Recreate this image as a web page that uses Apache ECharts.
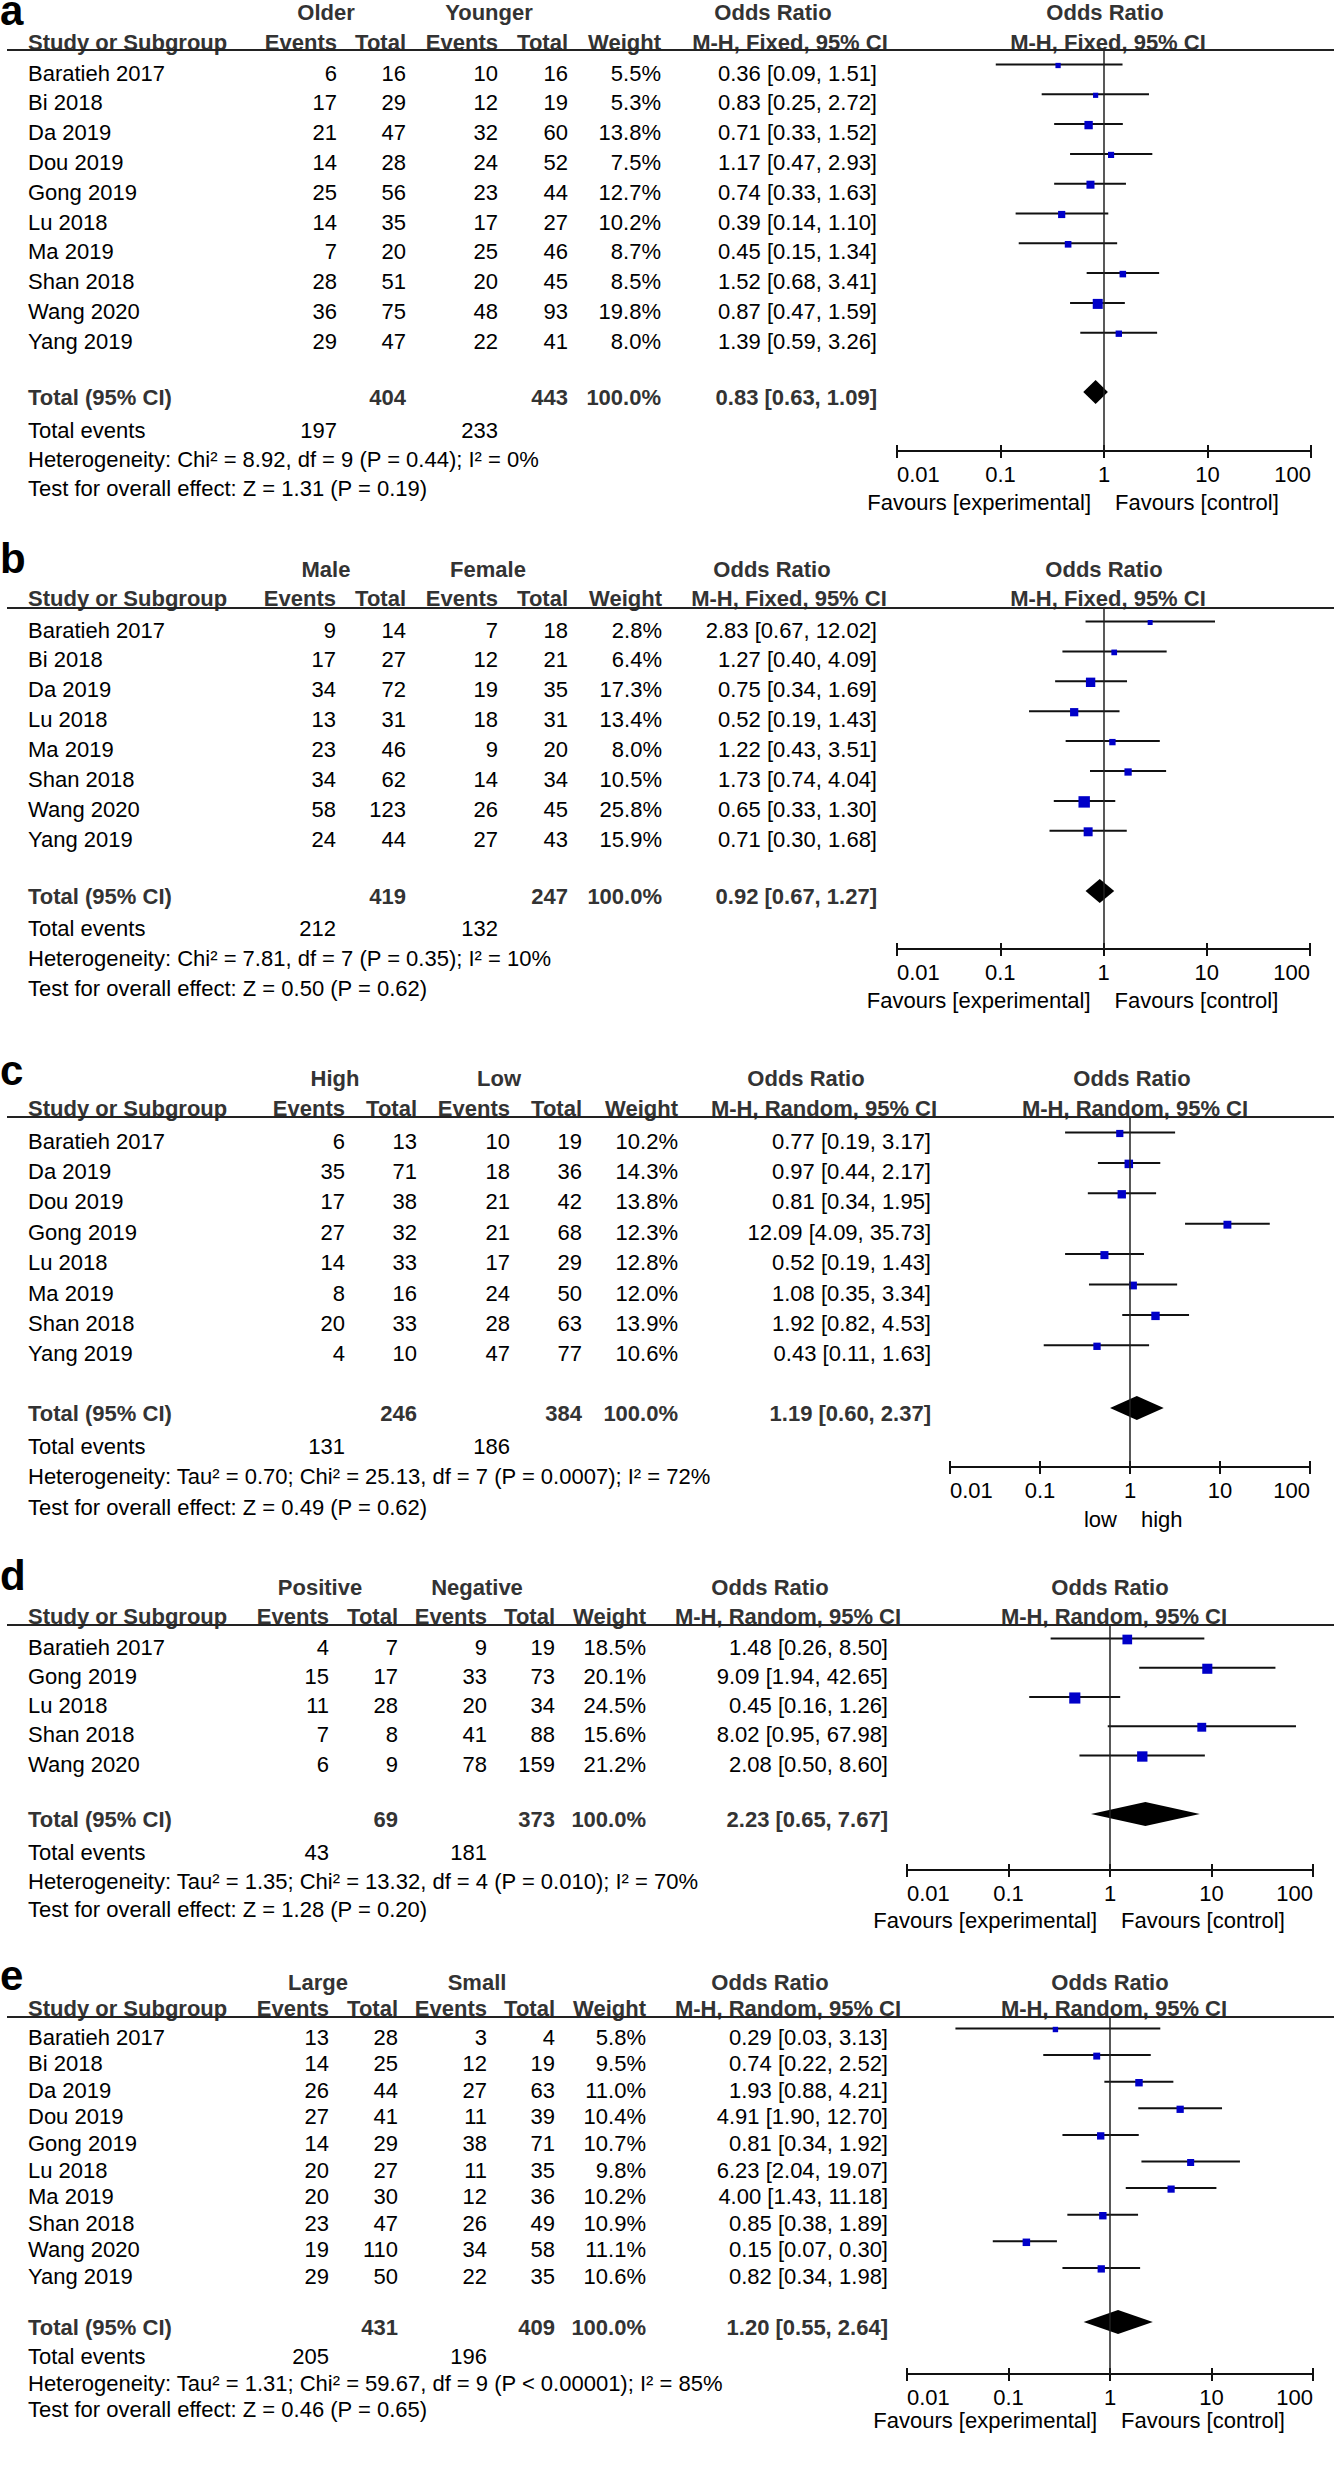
<!DOCTYPE html>
<html><head><meta charset="utf-8">
<script src="https://cdn.jsdelivr.net/npm/echarts@6/dist/echarts.min.js"></script>
<style>html,body{margin:0;padding:0;background:#fff}#c{width:1334px;height:2481px}</style>
</head><body><div id="c"></div>
<script>
// ================= DATA =================
// Panel a: Older vs Younger (M-H, Fixed)
const studies_a = ['Baratieh 2017','Bi 2018','Da 2019','Dou 2019','Gong 2019','Lu 2018','Ma 2019','Shan 2018','Wang 2020','Yang 2019'];
const ev1_a  = [6,17,21,14,25,14,7,28,36,29];
const tot1_a = [16,29,47,28,56,35,20,51,75,47];
const ev2_a  = [10,12,32,24,23,17,25,20,48,22];
const tot2_a = [16,19,60,52,44,27,46,45,93,41];
const wt_a   = [5.5,5.3,13.8,7.5,12.7,10.2,8.7,8.5,19.8,8.0];
const or_a   = [0.36,0.83,0.71,1.17,0.74,0.39,0.45,1.52,0.87,1.39];
const lo_a   = [0.09,0.25,0.33,0.47,0.33,0.14,0.15,0.68,0.47,0.59];
const hi_a   = [1.51,2.72,1.52,2.93,1.63,1.10,1.34,3.41,1.59,3.26];
const totals_a = [404,443,197,233];
const pooled_a = [0.83,0.63,1.09];
const het_a  = 'Heterogeneity: Chi² = 8.92, df = 9 (P = 0.44); I² = 0%';
const test_a = 'Test for overall effect: Z = 1.31 (P = 0.19)';

// Panel b: Male vs Female (M-H, Fixed)
const studies_b = ['Baratieh 2017','Bi 2018','Da 2019','Lu 2018','Ma 2019','Shan 2018','Wang 2020','Yang 2019'];
const ev1_b  = [9,17,34,13,23,34,58,24];
const tot1_b = [14,27,72,31,46,62,123,44];
const ev2_b  = [7,12,19,18,9,14,26,27];
const tot2_b = [18,21,35,31,20,34,45,43];
const wt_b   = [2.8,6.4,17.3,13.4,8.0,10.5,25.8,15.9];
const or_b   = [2.83,1.27,0.75,0.52,1.22,1.73,0.65,0.71];
const lo_b   = [0.67,0.40,0.34,0.19,0.43,0.74,0.33,0.30];
const hi_b   = [12.02,4.09,1.69,1.43,3.51,4.04,1.30,1.68];
const totals_b = [419,247,212,132];
const pooled_b = [0.92,0.67,1.27];
const het_b  = 'Heterogeneity: Chi² = 7.81, df = 7 (P = 0.35); I² = 10%';
const test_b = 'Test for overall effect: Z = 0.50 (P = 0.62)';

// Panel c: High vs Low (M-H, Random)
const studies_c = ['Baratieh 2017','Da 2019','Dou 2019','Gong 2019','Lu 2018','Ma 2019','Shan 2018','Yang 2019'];
const ev1_c  = [6,35,17,27,14,8,20,4];
const tot1_c = [13,71,38,32,33,16,33,10];
const ev2_c  = [10,18,21,21,17,24,28,47];
const tot2_c = [19,36,42,68,29,50,63,77];
const wt_c   = [10.2,14.3,13.8,12.3,12.8,12.0,13.9,10.6];
const or_c   = [0.77,0.97,0.81,12.09,0.52,1.08,1.92,0.43];
const lo_c   = [0.19,0.44,0.34,4.09,0.19,0.35,0.82,0.11];
const hi_c   = [3.17,2.17,1.95,35.73,1.43,3.34,4.53,1.63];
const totals_c = [246,384,131,186];
const pooled_c = [1.19,0.60,2.37];
const het_c  = 'Heterogeneity: Tau² = 0.70; Chi² = 25.13, df = 7 (P = 0.0007); I² = 72%';
const test_c = 'Test for overall effect: Z = 0.49 (P = 0.62)';

// Panel d: Positive vs Negative (M-H, Random)
const studies_d = ['Baratieh 2017','Gong 2019','Lu 2018','Shan 2018','Wang 2020'];
const ev1_d  = [4,15,11,7,6];
const tot1_d = [7,17,28,8,9];
const ev2_d  = [9,33,20,41,78];
const tot2_d = [19,73,34,88,159];
const wt_d   = [18.5,20.1,24.5,15.6,21.2];
const or_d   = [1.48,9.09,0.45,8.02,2.08];
const lo_d   = [0.26,1.94,0.16,0.95,0.50];
const hi_d   = [8.50,42.65,1.26,67.98,8.60];
const totals_d = [69,373,43,181];
const pooled_d = [2.23,0.65,7.67];
const het_d  = 'Heterogeneity: Tau² = 1.35; Chi² = 13.32, df = 4 (P = 0.010); I² = 70%';
const test_d = 'Test for overall effect: Z = 1.28 (P = 0.20)';

// Panel e: Large vs Small (M-H, Random)
const studies_e = ['Baratieh 2017','Bi 2018','Da 2019','Dou 2019','Gong 2019','Lu 2018','Ma 2019','Shan 2018','Wang 2020','Yang 2019'];
const ev1_e  = [13,14,26,27,14,20,20,23,19,29];
const tot1_e = [28,25,44,41,29,27,30,47,110,50];
const ev2_e  = [3,12,27,11,38,11,12,26,34,22];
const tot2_e = [4,19,63,39,71,35,36,49,58,35];
const wt_e   = [5.8,9.5,11.0,10.4,10.7,9.8,10.2,10.9,11.1,10.6];
const or_e   = [0.29,0.74,1.93,4.91,0.81,6.23,4.00,0.85,0.15,0.82];
const lo_e   = [0.03,0.22,0.88,1.90,0.34,2.04,1.43,0.38,0.07,0.34];
const hi_e   = [3.13,2.52,4.21,12.70,1.92,19.07,11.18,1.89,0.30,1.98];
const totals_e = [431,409,205,196];
const pooled_e = [1.20,0.55,2.64];
const het_e  = 'Heterogeneity: Tau² = 1.31; Chi² = 59.67, df = 9 (P < 0.00001); I² = 85%';
const test_e = 'Test for overall effect: Z = 0.46 (P = 0.65)';

const groups_a = ['Older','Younger'];
const groups_b = ['Male','Female'];
const groups_c = ['High','Low'];
const groups_d = ['Positive','Negative'];
const groups_e = ['Large','Small'];
const axisTicks = [0.01, 0.1, 1, 10, 100];
const favours_std = ['Favours [experimental]','Favours [control]'];
const favours_c = ['low','high'];

// ================= LAYOUT =================
const FONT = '"Liberation Sans", Arial, Helvetica, sans-serif';
const TXT_OFF = 8.5, DIA_OFF = 5, SQ = 2.25, SQ_MIN = 5, DIA_H = 12;
const LAY_a = {letter:'a', letterY:25, H:12, h2:42, line:50, row0:73, dy:29.8, total:397, events:430, het:459, test:488, axis:451, fav:502, fx0:897, fx1:1311, name:28, ev1:337, tot1:406, ev2:498, tot2:568, w:661, g1:326, g2:489, or1:773, mh1:790, ci:877, or2:1105, mh2:1108};
const LAY_b = {letter:'b', letterY:573, H:569, h2:598, line:608, row0:630, dy:29.9, total:896, events:928, het:958, test:988, axis:949, fav:1000, fx0:897, fx1:1310, name:28, ev1:336, tot1:406, ev2:498, tot2:568, w:662, g1:326, g2:488, or1:772, mh1:789, ci:877, or2:1104, mh2:1108};
const LAY_c = {letter:'c', letterY:1085, H:1078, h2:1108, line:1117, row0:1141, dy:30.4, total:1413, events:1446, het:1476, test:1507, axis:1467, fav:1519, fx0:950, fx1:1310, name:28, ev1:345, tot1:417, ev2:510, tot2:582, w:678, g1:335, g2:499, or1:806, mh1:824, ci:931, or2:1132, mh2:1135};
const LAY_d = {letter:'d', letterY:1590, H:1587, h2:1616, line:1625, row0:1647, dy:29.25, total:1819, events:1852, het:1881, test:1909, axis:1870, fav:1920, fx0:907, fx1:1313, name:28, ev1:329, tot1:398, ev2:487, tot2:555, w:646, g1:320, g2:477, or1:770, mh1:788, ci:888, or2:1110, mh2:1114};
const LAY_e = {letter:'e', letterY:1990, H:1982, h2:2008, line:2017, row0:2037, dy:26.6, total:2327, events:2356, het:2383, test:2409, axis:2374, fav:2420, fx0:907, fx1:1313, name:28, ev1:329, tot1:398, ev2:487, tot2:555, w:646, g1:318, g2:477, or1:770, mh1:788, ci:888, or2:1110, mh2:1114};

const PANELS = [
  {L:LAY_a, s:studies_a, e1:ev1_a, t1:tot1_a, e2:ev2_a, t2:tot2_a, w:wt_a, or:or_a, lo:lo_a, hi:hi_a, tot:totals_a, pool:pooled_a, het:het_a, test:test_a, grp:groups_a, method:'M-H, Fixed, 95% CI', fav:favours_std},
  {L:LAY_b, s:studies_b, e1:ev1_b, t1:tot1_b, e2:ev2_b, t2:tot2_b, w:wt_b, or:or_b, lo:lo_b, hi:hi_b, tot:totals_b, pool:pooled_b, het:het_b, test:test_b, grp:groups_b, method:'M-H, Fixed, 95% CI', fav:favours_std},
  {L:LAY_c, s:studies_c, e1:ev1_c, t1:tot1_c, e2:ev2_c, t2:tot2_c, w:wt_c, or:or_c, lo:lo_c, hi:hi_c, tot:totals_c, pool:pooled_c, het:het_c, test:test_c, grp:groups_c, method:'M-H, Random, 95% CI', fav:favours_c},
  {L:LAY_d, s:studies_d, e1:ev1_d, t1:tot1_d, e2:ev2_d, t2:tot2_d, w:wt_d, or:or_d, lo:lo_d, hi:hi_d, tot:totals_d, pool:pooled_d, het:het_d, test:test_d, grp:groups_d, method:'M-H, Random, 95% CI', fav:favours_std},
  {L:LAY_e, s:studies_e, e1:ev1_e, t1:tot1_e, e2:ev2_e, t2:tot2_e, w:wt_e, or:or_e, lo:lo_e, hi:hi_e, tot:totals_e, pool:pooled_e, het:het_e, test:test_e, grp:groups_e, method:'M-H, Random, 95% CI', fav:favours_std}
];

// ================= HELPERS =================
function T(x, y, text, align, font, fill, lineHeight) {
  const st = {text:String(text), x:0, y:0, font:font || ('22px ' + FONT), fill:fill || '#000',
      align:align, verticalAlign:'middle', textAlign:align, textVerticalAlign:'middle'};
  if (lineHeight) st.lineHeight = lineHeight;
  return {type:'text', x:x, y:y, silent:true, style:st};
}
const REG = '22px ' + FONT, BOLD = 'bold 22px ' + FONT;
const HEAD = '#333';
const ci = (o,l,h) => o.toFixed(2) + ' [' + l.toFixed(2) + ', ' + h.toFixed(2) + ']';

// ================= OPTION =================
const chart = echarts.init(document.getElementById('c'), null, {renderer:'svg', width:1334, height:2481});
const grids = [], xAxes = [], yAxes = [], series = [], graphics = [];

PANELS.forEach((P, k) => {
  const L = P.L;
  const mark0 = L.row0 - TXT_OFF;
  const vmin = -(mark0 - L.line) / L.dy;
  const vmax = vmin + (L.axis - L.line) / L.dy;
  const vT = (L.total - DIA_OFF - mark0) / L.dy;

  grids.push({left:L.fx0, top:L.line, width:L.fx1 - L.fx0, height:L.axis - L.line});
  const base = {type:'log', logBase:10, min:axisTicks[0], max:axisTicks[axisTicks.length-1], gridIndex:k, position:'bottom', splitLine:{show:false}, minorTick:{show:false}, minorSplitLine:{show:false}};
  xAxes.push(Object.assign({}, base, {
    axisLine:{show:true, onZero:false, lineStyle:{color:'#111', width:2}},
    axisTick:{show:true, inside:false, length:7, lineStyle:{color:'#111', width:2}},
    axisLabel:{show:true, margin:12, color:'#000', fontSize:22, fontFamily:FONT, showMinLabel:true, showMaxLabel:true,
      alignMinLabel:'left', alignMaxLabel:'right', formatter: v => String(Number(v.toPrecision(3)))}
  }));
  xAxes.push(Object.assign({}, base, {
    axisLine:{show:false, onZero:false},
    axisTick:{show:true, inside:true, length:6, lineStyle:{color:'#111', width:2}},
    axisLabel:{show:false}
  }));
  yAxes.push({type:'value', gridIndex:k, inverse:true, min:vmin, max:vmax, show:false});

  // study CIs + weighted squares
  series.push({
    type:'custom', name:'studies_' + L.letter, xAxisIndex:2*k, yAxisIndex:k, clip:false, silent:true, z:3,
    data:P.or.map((o,i) => [o, P.lo[i], P.hi[i], i, P.w[i]]),
    encode:{x:[0,1,2], y:3},
    renderItem:(params, api) => {
      const r = api.value(3);
      const pO = api.coord([api.value(0), r]);
      const pL = api.coord([api.value(1), r]);
      const pH = api.coord([api.value(2), r]);
      const s = Math.max(SQ_MIN, SQ * Math.sqrt(api.value(4)));
      return {type:'group', children:[
        {type:'line', shape:{x1:pL[0], y1:pO[1], x2:pH[0], y2:pO[1]}, style:{stroke:'#111', lineWidth:2}},
        {type:'rect', shape:{x:pO[0]-s/2, y:pO[1]-s/2+1, width:s, height:s}, style:{fill:'#0000c8'}}
      ]};
    },
    markLine:{silent:true, symbol:['none','none'], label:{show:false}, animation:false,
      lineStyle:{color:'#222', width:1.5, type:'solid'}, emphasis:{disabled:true}, data:[{xAxis:1}]}
  });
  // pooled diamond
  series.push({
    type:'custom', name:'pooled_' + L.letter, xAxisIndex:2*k, yAxisIndex:k, clip:false, silent:true, z:4,
    data:[[P.pool[0], P.pool[1], P.pool[2], vT]],
    encode:{x:[0,1,2], y:3},
    renderItem:(params, api) => {
      const r = api.value(3);
      const pO = api.coord([api.value(0), r]);
      const pL = api.coord([api.value(1), r]);
      const pH = api.coord([api.value(2), r]);
      return {type:'polygon', shape:{points:[[pL[0],pO[1]],[pO[0],pO[1]-DIA_H],[pH[0],pO[1]],[pO[0],pO[1]+DIA_H]]}, style:{fill:'#000'}};
    }
  });
  // table text per study row (+ total row)
  const rows = P.s.map((_, i) => [1, i]).concat([[1, vT]]);
  series.push({
    type:'custom', name:'table_' + L.letter, xAxisIndex:2*k, yAxisIndex:k, clip:false, silent:true, z:2,
    data:rows, encode:{x:0, y:1},
    renderItem:(params, api) => {
      const i = params.dataIndex;
      const isTotal = i === P.s.length;
      const y = api.coord([1, api.value(1)])[1] + (isTotal ? DIA_OFF : TXT_OFF);
      if (isTotal) {
        return {type:'group', children:[
          T(L.name, y, 'Total (95% CI)', 'left', BOLD, HEAD),
          T(L.tot1, y, P.tot[0], 'right', BOLD, HEAD),
          T(L.tot2, y, P.tot[1], 'right', BOLD, HEAD),
          T(L.w, y, '100.0%', 'right', BOLD, HEAD),
          T(L.ci, y, ci(P.pool[0], P.pool[1], P.pool[2]), 'right', BOLD, HEAD)
        ]};
      }
      return {type:'group', children:[
        T(L.name, y, P.s[i], 'left', REG),
        T(L.ev1, y, P.e1[i], 'right', REG),
        T(L.tot1, y, P.t1[i], 'right', REG),
        T(L.ev2, y, P.e2[i], 'right', REG),
        T(L.tot2, y, P.t2[i], 'right', REG),
        T(L.w, y, P.w[i].toFixed(1) + '%', 'right', REG),
        T(L.ci, y, ci(P.or[i], P.lo[i], P.hi[i]), 'right', REG)
      ]};
    }
  });

  // static headers / footers
  graphics.push(T(0, L.letterY - 14.5, L.letter, 'left', 'bold 42px ' + FONT, '#000', 21));
  graphics.push(T(L.g1, L.H, P.grp[0], 'center', BOLD, HEAD));
  graphics.push(T(L.g2, L.H, P.grp[1], 'center', BOLD, HEAD));
  graphics.push(T(L.or1, L.H, 'Odds Ratio', 'center', BOLD, HEAD));
  graphics.push(T(L.or2, L.H, 'Odds Ratio', 'center', BOLD, HEAD));
  graphics.push(T(L.name, L.h2, 'Study or Subgroup', 'left', BOLD, HEAD));
  graphics.push(T(L.ev1, L.h2, 'Events', 'right', BOLD, HEAD));
  graphics.push(T(L.tot1, L.h2, 'Total', 'right', BOLD, HEAD));
  graphics.push(T(L.ev2, L.h2, 'Events', 'right', BOLD, HEAD));
  graphics.push(T(L.tot2, L.h2, 'Total', 'right', BOLD, HEAD));
  graphics.push(T(L.w, L.h2, 'Weight', 'right', BOLD, HEAD));
  graphics.push(T(L.mh1, L.h2, P.method, 'center', BOLD, HEAD));
  graphics.push(T(L.mh2, L.h2, P.method, 'center', BOLD, HEAD));
  graphics.push({type:'line', silent:true, shape:{x1:7, y1:L.line, x2:1334, y2:L.line}, style:{stroke:'#222', lineWidth:2}});
  graphics.push(T(L.name, L.events, 'Total events', 'left', REG));
  graphics.push(T(L.ev1, L.events, P.tot[2], 'right', REG));
  graphics.push(T(L.ev2, L.events, P.tot[3], 'right', REG));
  graphics.push(T(L.name, L.het, P.het, 'left', REG));
  graphics.push(T(L.name, L.test, P.test, 'left', REG));
});

chart.setOption({
  animation:false,
  backgroundColor:'#fff',
  grid:grids, xAxis:xAxes, yAxis:yAxes, series:series, graphic:graphics
});

// favours labels placed around the x = 1 line of each forest axis
const favG = [];
PANELS.forEach((P, k) => {
  const x1 = chart.convertToPixel({xAxisIndex:2*k}, 1);
  favG.push(T(x1 - 13, P.L.fav, P.fav[0], 'right', REG));
  favG.push(T(x1 + 11, P.L.fav, P.fav[1], 'left', REG));
});
chart.setOption({graphic:graphics.concat(favG)});
</script>
</body></html>
